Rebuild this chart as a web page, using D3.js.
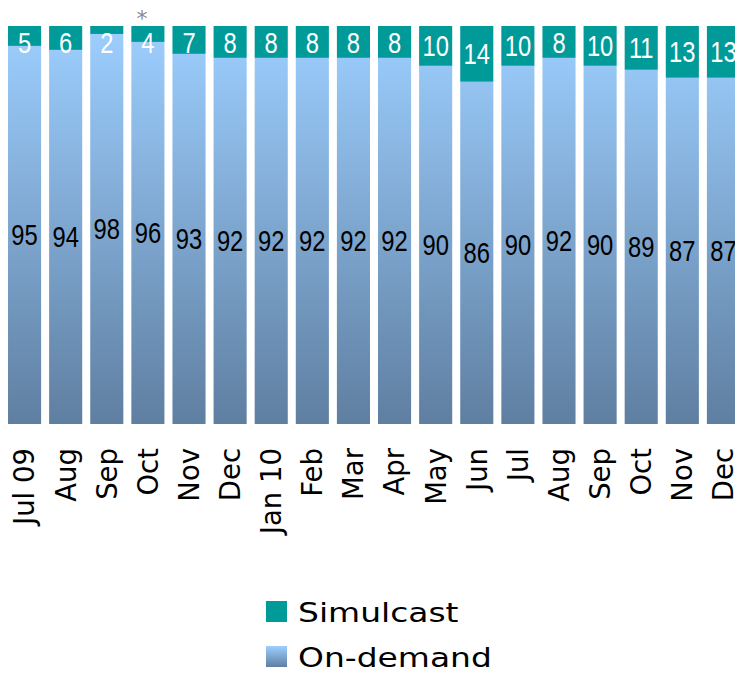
<!DOCTYPE html>
<html><head><meta charset="utf-8">
<script src="https://cdn.jsdelivr.net/npm/d3@7"></script>
<style>html,body{margin:0;padding:0;background:#fff;overflow:hidden}</style>
</head><body>
<svg id="c" width="735" height="674"></svg>
<script>
const categories = ["Jul 09","Aug","Sep","Oct","Nov","Dec","Jan 10","Feb","Mar","Apr","May","Jun","Jul","Aug","Sep","Oct","Nov","Dec"];
const simulcast = [5,6,2,4,7,8,8,8,8,8,10,14,10,8,10,11,13,13];
const onDemand  = [95,94,98,96,93,92,92,92,92,92,90,86,90,92,90,89,87,87];
const seriesNames = ["Simulcast","On-demand"];
const notes = {3:"*"};

const svg = d3.select("#c");
const ids = d3.range(categories.length);
const x = d3.scaleBand().domain(ids).range([0, 748]).padding(0.195);
const y = d3.scaleLinear().domain([0, 100]).range([424, 26]);

const defs = svg.append("defs");
const g1 = defs.append("linearGradient").attr("id","od").attr("gradientUnits","userSpaceOnUse")
  .attr("x1",0).attr("x2",0).attr("y1",y(100)).attr("y2",y(0));
g1.append("stop").attr("offset","0%").attr("stop-color","#9dcfff");
g1.append("stop").attr("offset","100%").attr("stop-color","#5f7fa1");
const g2 = defs.append("linearGradient").attr("id","odl").attr("x1",0).attr("x2",0).attr("y1",0).attr("y2",1);
g2.append("stop").attr("offset","0%").attr("stop-color","#9dcfff");
g2.append("stop").attr("offset","100%").attr("stop-color","#5f7fa1");

const teal = "#009a99";
const numFont = "'Liberation Sans', Arial, sans-serif";

// On-demand bars (bottom)
svg.append("g").selectAll("rect").data(ids).join("rect")
  .attr("x", i => x(i)).attr("width", x.bandwidth())
  .attr("y", i => y(onDemand[i])).attr("height", i => y(0) - y(onDemand[i]))
  .attr("fill", "url(#od)");
// Simulcast bars (top)
svg.append("g").selectAll("rect").data(ids).join("rect")
  .attr("x", i => x(i)).attr("width", x.bandwidth())
  .attr("y", i => y(onDemand[i] + simulcast[i])).attr("height", i => y(onDemand[i]) - y(onDemand[i] + simulcast[i]))
  .attr("fill", teal);

// labels
const cx = i => x(i) + x.bandwidth() / 2;
svg.append("g").selectAll("text").data(ids).join("text")
  .attr("transform", i => `translate(${cx(i)},${Math.max((y(onDemand[i]) + y(onDemand[i] + simulcast[i])) / 2, 43)}) scale(0.82,1)`)
  .attr("text-anchor","middle").attr("dy","0.36em")
  .attr("font-family", numFont).attr("font-size", 29).attr("fill","#fff")
  .text(i => simulcast[i]);
svg.append("g").selectAll("text").data(ids).join("text")
  .attr("transform", i => `translate(${cx(i)},${(y(0) + y(onDemand[i])) / 2}) scale(0.82,1)`)
  .attr("text-anchor","middle").attr("dy","0.36em")
  .attr("font-family", numFont).attr("font-size", 29).attr("fill","#000")
  .text(i => onDemand[i]);

// note asterisk
svg.append("g").selectAll("text").data(Object.keys(notes).map(Number)).join("text")
  .attr("x", i => cx(i) - 6).attr("y", 26)
  .attr("text-anchor","middle").attr("font-family","'DejaVu Sans', sans-serif")
  .attr("font-size", 22).attr("fill","#888").text(i => notes[i]);

// x axis labels (rotated)
const axis = d3.axisBottom(x).tickSize(0).tickFormat(i => categories[i]);
const ax = svg.append("g").attr("transform","translate(0,448)").call(axis);
ax.select(".domain").remove();
ax.selectAll("text")
  .attr("transform","rotate(-90)")
  .attr("x",0).attr("y",0).attr("dy","0.36em")
  .attr("text-anchor","end")
  .attr("font-family","'DejaVu Sans', Verdana, sans-serif")
  .attr("font-size", 27.5).attr("fill","#000");

// legend
const legend = svg.append("g");
const items = [{name: seriesNames[0], fill: teal, y: 612}, {name: seriesNames[1], fill: "url(#odl)", y: 657}];
items.forEach(d => {
  legend.append("rect").attr("x", 266).attr("y", d.y - 11).attr("width", 21).attr("height", 21).attr("fill", d.fill);
  legend.append("text").attr("transform", `translate(298,${d.y}) scale(1.22,1)`).attr("dy","0.36em")
    .attr("font-family","'DejaVu Sans', Verdana, sans-serif").attr("font-size", 27).attr("fill","#000").text(d.name);
});
</script>
</body></html>
